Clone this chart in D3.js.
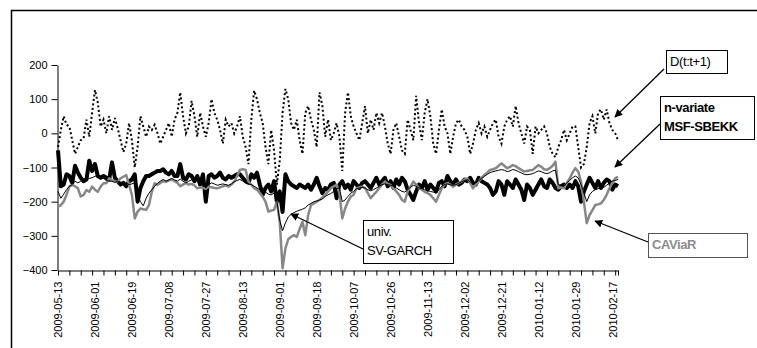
<!DOCTYPE html>
<html><head><meta charset="utf-8">
<script src="https://cdn.jsdelivr.net/npm/d3@7/dist/d3.min.js"></script>
<style>
body{margin:0;background:#fff}
text{font-family:"Liberation Sans",Arial,sans-serif}
</style>
</head><body>
<svg id="chart" width="757" height="348"></svg>
<script>
// ---- data ----
const tickLabels = ["2009-05-13","2009-06-01","2009-06-19","2009-07-08","2009-07-27","2009-08-13",
  "2009-09-01","2009-09-18","2009-10-07","2009-10-26","2009-11-13","2009-12-02","2009-12-21",
  "2010-01-12","2010-01-29","2010-02-17"];
const labelStep = 13;   // categories between labels
const tickStep = 4;     // categories between tick marks
const nCats = 198;
const yTicks = [-400,-300,-200,-100,0,100,200];

const dT = [
 -40,10,50,25,20,-20,-60,-40,-20,-15,
 40,-10,60,127,90,20,40,0,50,10,
 45,15,-20,-55,-30,30,-20,-100,-40,50,
 20,-10,20,10,25,0,-30,-10,10,30,
 -10,40,60,120,50,0,20,95,50,-10,
 60,20,-10,30,100,60,40,10,-30,40,
 20,30,0,20,50,-10,-40,-90,40,125,
 100,60,30,-40,-90,10,-50,-150,-80,60,
 130,100,30,10,40,-20,-60,60,80,40,
 10,-40,120,80,-10,40,-20,0,30,-10,
 -110,60,120,50,20,0,-20,30,80,0,
 40,10,60,30,60,20,-30,-60,10,30,
 -10,-50,-60,40,10,-20,110,30,-20,60,
 100,50,-30,-60,10,70,20,0,-60,-10,
 30,40,20,10,-10,-60,-30,10,30,0,
 20,-10,10,30,40,-10,-30,20,40,50,
 20,80,30,0,-30,20,10,-60,20,0,
 10,20,0,-40,-60,-70,-40,-20,10,-20,
 0,20,20,-40,-100,-90,-40,30,50,0,
 60,70,40,70,30,10,0,-20];

const msfSbekk = [
 -50,-155,-150,-120,-125,-145,-95,-115,-130,-140,
 -135,-80,-110,-90,-125,-130,-125,-130,-135,-85,
 -130,-140,-150,-145,-155,-140,-135,-120,-200,-160,
 -140,-125,-125,-120,-115,-110,-110,-105,-115,-120,
 -110,-125,-125,-90,-130,-135,-120,-125,-140,-125,
 -150,-120,-200,-125,-120,-130,-125,-115,-130,-135,
 -125,-130,-125,-120,-120,-130,-140,-145,-120,-130,
 -115,-150,-180,-160,-150,-170,-140,-200,-170,-230,
 -120,-140,-150,-155,-160,-150,-155,-160,-150,-165,
 -150,-130,-155,-175,-160,-165,-150,-145,-190,-150,
 -140,-160,-150,-165,-140,-150,-160,-145,-140,-150,
 -160,-145,-130,-150,-140,-130,-155,-140,-160,-135,
 -150,-130,-140,-165,-180,-195,-170,-150,-160,-140,
 -165,-150,-160,-170,-145,-140,-155,-125,-140,-150,
 -135,-150,-145,-135,-140,-130,-145,-150,-130,-140,
 -145,-150,-160,-180,-170,-140,-150,-180,-140,-150,
 -160,-135,-150,-165,-195,-150,-160,-180,-165,-150,
 -135,-155,-160,-135,-145,-160,-165,-155,-150,-160,
 -150,-160,-140,-155,-200,-170,-150,-130,-145,-160,
 -140,-160,-145,-135,-140,-165,-150,-155];

const svGarch = [
 -170,-190,-178,-165,-155,-150,-140,-145,-140,-137,
 -135,-132,-130,-126,-122,-125,-132,-138,-140,-140,
 -144,-140,-145,-150,-146,-150,-148,-145,-180,-200,
 -212,-190,-175,-165,-155,-146,-140,-135,-140,-136,
 -132,-136,-140,-134,-140,-145,-140,-136,-140,-137,
 -142,-145,-160,-150,-145,-148,-152,-150,-148,-150,
 -152,-148,-142,-138,-135,-140,-145,-148,-150,-155,
 -160,-165,-170,-172,-178,-180,-175,-200,-255,-285,
 -262,-245,-237,-232,-228,-225,-222,-218,-210,-205,
 -200,-198,-195,-192,-185,-180,-176,-170,-162,-160,
 -200,-195,-185,-175,-170,-162,-160,-158,-160,-165,
 -168,-165,-160,-155,-150,-148,-150,-152,-155,-160,
 -165,-170,-172,-165,-158,-152,-155,-160,-162,-165,
 -168,-170,-172,-175,-165,-155,-150,-148,-150,-152,
 -150,-146,-142,-138,-136,-142,-150,-145,-138,-132,
 -126,-120,-115,-112,-110,-108,-106,-108,-112,-110,
 -106,-108,-112,-116,-120,-121,-120,-118,-114,-110,
 -112,-116,-118,-115,-110,-108,-150,-152,-155,-145,
 -138,-130,-125,-130,-150,-175,-200,-180,-170,-165,
 -162,-160,-158,-152,-145,-140,-138,-135];

const caviar = [
 -215,-210,-200,-180,-156,-151,-155,-161,-185,-180,
 -166,-171,-156,-165,-171,-156,-146,-146,-132,-137,
 -140,-141,-132,-127,-122,-151,-180,-249,-229,-220,
 -222,-224,-210,-171,-146,-151,-145,-140,-142,-138,
 -135,-140,-145,-155,-150,-145,-150,-148,-152,-161,
 -158,-160,-162,-156,-158,-160,-161,-158,-155,-152,
 -156,-150,-141,-125,-107,-105,-107,-141,-150,-161,
 -165,-175,-185,-200,-229,-226,-224,-200,-259,-395,
 -337,-310,-303,-298,-303,-280,-259,-298,-239,-210,
 -205,-200,-195,-188,-180,-170,-161,-155,-151,-175,
 -249,-220,-200,-185,-180,-161,-158,-156,-160,-175,
 -190,-180,-171,-160,-150,-141,-148,-151,-161,-170,
 -180,-195,-200,-170,-156,-141,-150,-161,-165,-171,
 -175,-180,-190,-200,-180,-161,-150,-146,-150,-156,
 -150,-145,-141,-135,-132,-145,-161,-150,-141,-130,
 -122,-115,-107,-105,-102,-95,-88,-95,-102,-98,
 -93,-96,-102,-107,-112,-110,-108,-107,-100,-93,
 -98,-105,-107,-102,-95,-83,-161,-158,-161,-145,
 -132,-115,-102,-112,-141,-200,-263,-239,-225,-210,
 -208,-205,-195,-180,-161,-145,-132,-127];

// ---- chart ----
const svg = d3.select("#chart");
const categories = d3.range(nCats);
const x = d3.scalePoint().domain(categories).range([58, 618]);
const y = d3.scaleLinear().domain([-400, 200]).range([270, 65]);

// outer frame (cropped at right / bottom)
svg.append("rect").attr("x", 11.5).attr("y", 10.5).attr("width", 900).attr("height", 600)
  .attr("fill", "none").attr("stroke", "#000").attr("stroke-width", 1.5);

// y axis
const yAxis = svg.append("g").attr("transform", "translate(57.5,0)")
  .call(d3.axisLeft(y).tickValues(yTicks).tickSize(6).tickPadding(4).tickSizeOuter(0));
yAxis.selectAll("text").attr("font-size", 11).attr("fill", "#000")
  .attr("font-family", "'Liberation Sans',Arial,sans-serif");

// x axis ticks
const tickIdx = categories.filter(i => i % tickStep === 0).concat([nCats - 1]);
const xAxis = svg.append("g").attr("transform", "translate(0,270.5)")
  .call(d3.axisBottom(x).tickValues(tickIdx).tickSize(5).tickSizeOuter(0).tickFormat(""));
// x labels
const labelIdx = tickLabels.map((_, k) => k * labelStep);
const xLab = svg.append("g").attr("transform", "translate(0,270.5)")
  .call(d3.axisBottom(x).tickValues(labelIdx).tickSize(0)
    .tickFormat(i => tickLabels[i / labelStep]));
xLab.select(".domain").remove();
xLab.selectAll("text").attr("font-size", 11).attr("fill", "#000")
  .attr("font-family", "'Liberation Sans',Arial,sans-serif")
  .attr("text-anchor", "end").attr("transform", "rotate(-90)")
  .attr("x", -11).attr("y", 0).attr("dy", "0.35em");
svg.selectAll(".domain, .tick line").attr("stroke", "#000");

// series
const line = d3.line().x((d, i) => x(i)).y(d => y(d));
const plot = svg.append("g");
plot.append("path").datum(dT).attr("d", line).attr("fill", "none")
  .attr("stroke", "#000").attr("stroke-width", 2).attr("stroke-dasharray", "2,2.5");
plot.append("path").datum(msfSbekk).attr("d", line).attr("fill", "none")
  .attr("stroke", "#000").attr("stroke-width", 4).attr("stroke-linejoin", "round");
plot.append("path").datum(caviar).attr("d", line).attr("fill", "none")
  .attr("stroke", "#878787").attr("stroke-width", 2.5).attr("stroke-linejoin", "round");
plot.append("path").datum(svGarch).attr("d", line).attr("fill", "none")
  .attr("stroke", "#000").attr("stroke-width", 1);

// annotations
const defs = svg.append("defs");
defs.append("marker").attr("id", "ah").attr("viewBox", "0 0 10 10")
  .attr("refX", 9).attr("refY", 5).attr("markerWidth", 8).attr("markerHeight", 8)
  .attr("markerUnits", "userSpaceOnUse").attr("orient", "auto")
  .append("path").attr("d", "M0,0L10,5L0,10z").attr("fill", "#000");

const notes = [
  {box:[666,50,61,23], lines:["D(t:t+1)"], bold:false, color:"#000", border:"#000", from:[664,69], to:[615,117]},
  {box:[660,96,94,43], lines:["n-variate","MSF-SBEKK"], bold:true, color:"#000", border:"#000", from:[660,124], to:[615,167]},
  {box:[648,233,99,24], lines:["CAViaR"], bold:true, color:"#8c8c8c", border:"#555", from:[648,242], to:[595,221]},
  {box:[363,220,90,43], lines:["univ.","SV-GARCH"], bold:false, color:"#000", border:"#000", from:[363,249], to:[291,214]}
];
notes.forEach(n => {
  svg.append("line").attr("x1", n.from[0]).attr("y1", n.from[1]).attr("x2", n.to[0]).attr("y2", n.to[1])
    .attr("stroke", "#000").attr("stroke-width", 1.3).attr("marker-end", "url(#ah)");
  svg.append("rect").attr("x", n.box[0] + 0.5).attr("y", n.box[1] + 0.5).attr("width", n.box[2]).attr("height", n.box[3])
    .attr("fill", "#fff").attr("stroke", n.border).attr("stroke-width", 1);
  n.lines.forEach((t, k) => {
    svg.append("text").attr("x", n.box[0] + 4).attr("y", n.box[1] + 16 + k * 19)
      .attr("font-size", 13).attr("font-weight", n.bold ? "bold" : "normal")
      .attr("fill", n.color).attr("letter-spacing", -0.4).text(t);
  });
});
</script>
</body></html>
